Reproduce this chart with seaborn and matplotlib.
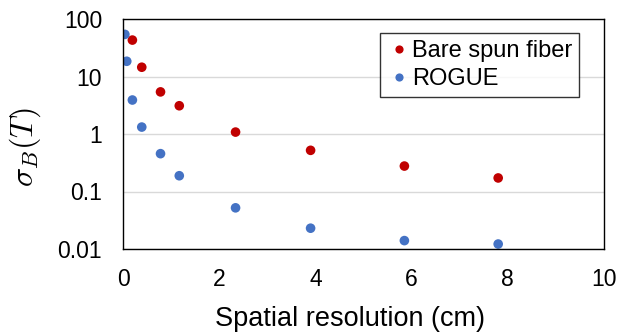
import matplotlib
matplotlib.use("Agg")
import matplotlib.pyplot as plt
import seaborn as sns
import pandas as pd
from matplotlib.ticker import LogLocator, FixedLocator, FixedFormatter

bare_x = [0.195, 0.39, 0.78, 1.17, 2.34, 3.9, 5.85, 7.8]
bare_y = [43, 14.5, 5.4, 3.1, 1.08, 0.52, 0.277, 0.172]
rogue_x = [0.039, 0.078, 0.195, 0.39, 0.78, 1.17, 2.34, 3.9, 5.85, 7.8]
rogue_y = [54, 18.4, 3.9, 1.32, 0.455, 0.188, 0.052, 0.023, 0.014, 0.0122]
series_names = ["Bare spun fiber", "ROGUE"]
y_ticks = [0.01, 0.1, 1, 10, 100]
y_tick_labels = ["0.01", "0.1", "1", "10", "100"]

df = pd.concat([
    pd.DataFrame({"x": bare_x, "y": bare_y, "series": series_names[0]}),
    pd.DataFrame({"x": rogue_x, "y": rogue_y, "series": series_names[1]}),
])

sns.set_style("white")
plt.rcParams["font.family"] = ["Liberation Sans", "DejaVu Sans"]
plt.rcParams["mathtext.fontset"] = "cm"
plt.rcParams["text.color"] = "black"
plt.rcParams["axes.labelcolor"] = "black"

fig = plt.figure(figsize=(6.31, 3.33), dpi=100)
ax = fig.add_axes([123 / 631, 1 - 249 / 333, 481 / 631, 230 / 333])

sns.scatterplot(data=df, x="x", y="y", hue="series",
                palette={series_names[0]: "#C00000", series_names[1]: "#4472C4"},
                s=48, edgecolor="none", ax=ax, legend=True)

ax.set_yscale("log")
ax.set_xlim(0, 10)
ax.set_ylim(0.01, 100)
ax.set_xticks([0, 2, 4, 6, 8, 10])
ax.yaxis.set_major_locator(FixedLocator(y_ticks))
ax.yaxis.set_major_formatter(FixedFormatter(y_tick_labels))
ax.yaxis.set_minor_locator(LogLocator(base=10, subs=range(2, 10)))
ax.grid(axis="y", which="major", color="#D9D9D9", linewidth=1)
ax.set_axisbelow(True)

for sp in ax.spines.values():
    sp.set_color("black")
    sp.set_linewidth(1.0)
ax.tick_params(axis="both", which="major", direction="in", length=5, width=1,
               labelsize=16.5, color="black", labelcolor="black")
ax.tick_params(axis="x", which="major", pad=14)
ax.tick_params(axis="y", which="major", pad=15)
ax.tick_params(axis="y", which="minor", direction="in", length=3, width=1, color="black")
ax.tick_params(axis="x", which="minor", length=0)

ax.set_xlabel("Spatial resolution (cm)", fontsize=19.5)
ax.xaxis.set_label_coords(0.472, -0.25, transform=ax.transAxes)
ax.xaxis.label.set_va("top")
ax.set_ylabel(r"$\sigma_B(T)$", fontsize=23)
ax.yaxis.set_label_coords(-0.166, 0.443, transform=ax.transAxes)

leg = ax.legend(loc="upper right", bbox_to_anchor=(0.948, 0.939), fontsize=17,
                frameon=True, fancybox=False, edgecolor="black",
                handletextpad=0.05, borderpad=0.3, labelspacing=0.25,
                handlelength=1.0, markerscale=0.85, borderaxespad=0.0)
leg.get_frame().set_linewidth(1.0)

fig.savefig("out.png", dpi=100)
